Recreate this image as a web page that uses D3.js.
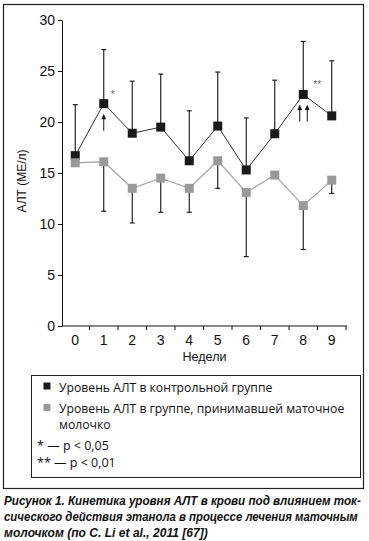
<!DOCTYPE html>
<html>
<head>
<meta charset="utf-8">
<script src="https://cdn.jsdelivr.net/npm/d3@7"></script>
<style>
  body { margin: 0; background: #fff; }
  svg { display: block; }
</style>
</head>
<body>
<svg id="chart" width="369" height="541"></svg>
<script>
// данные
const weeks = [0, 1, 2, 3, 4, 5, 6, 7, 8, 9];
const control = [16.7, 21.8, 18.9, 19.5, 16.2, 19.6, 15.3, 18.85, 22.7, 20.6];
const controlUpper = [21.7, 27.1, 24.0, 24.7, 21.1, 24.9, 20.4, 24.1, 27.9, 26.0];
const jelly = [16.0, 16.1, 13.5, 14.5, 13.5, 16.2, 13.1, 14.8, 11.8, 14.3];
const jellyLower = [null, 11.25, 10.1, 11.15, 11.15, 13.5, 6.8, null, 7.5, 13.0];
const yTicks = [0, 5, 10, 15, 20, 25, 30];
const marks = [{ week: 1, text: "*", arrows: 1 }, { week: 8, text: "**", arrows: 2 }];
const legendItems = [
    { color: "#1a1a1a", lines: ["Уровень АЛТ в контрольной группе"] },
    { color: "#999999", lines: ["Уровень АЛТ в группе, принимавшей маточное", "молочко"] }
];
const notes = ["* — p < 0,05", "** — p < 0,01"];
const caption = [
    "Рисунок 1. Кинетика уровня АЛТ в крови под влиянием ток-",
    "сического действия этанола в процессе лечения маточным",
    "молочком (по C. Li et al., 2011 [67])"
];
const captionWidths = [357, 354, 204];

const svg = d3.select("#chart");
const axisFont = "'Liberation Sans', Arial, sans-serif";
const legendFont = "'Open Sans', 'Noto Sans', sans-serif";

const area = { left: 62, right: 347, top: 20, bottom: 326 };

// рамка рисунка
svg.append("rect")
    .attr("x", 3.5).attr("y", 4.5)
    .attr("width", 360).attr("height", 484)
    .attr("fill", "none").attr("stroke", "#222").attr("stroke-width", 1.2);

const x = d3.scaleBand()
    .domain(weeks)
    .range([area.left - 1, area.right - 1]);

const y = d3.scaleLinear()
    .domain([0, 30])
    .range([area.bottom, area.top]);

const cx = d => x(d) + x.bandwidth() / 2;

// ось Y
const gy = svg.append("g")
    .attr("transform", `translate(${area.left},0)`)
    .call(d3.axisLeft(y).tickValues(yTicks).tickSize(4).tickSizeOuter(0).tickPadding(3));
gy.selectAll("text")
    .style("font-family", axisFont)
    .style("font-size", "14px")
    .attr("fill", "#111");
gy.select(".domain").attr("stroke", "#111");
gy.selectAll(".tick line").attr("stroke", "#111");

// ось X: подписи по центрам, засечки по границам
const gx = svg.append("g")
    .attr("transform", `translate(0,${area.bottom})`)
    .call(d3.axisBottom(x).tickSize(0).tickPadding(9).tickSizeOuter(0));
gx.select(".domain").remove();
gx.selectAll("text")
    .style("font-family", axisFont)
    .style("font-size", "14px")
    .attr("fill", "#111");
gx.append("line")
    .attr("x1", area.left).attr("x2", area.right)
    .attr("stroke", "#111");
const bounds = weeks.map(d => x(d)).concat([x(weeks[weeks.length - 1]) + x.bandwidth()]);
gx.selectAll(".bound")
    .data(bounds.slice(1))
    .join("line")
    .attr("x1", d => d).attr("x2", d => d)
    .attr("y1", 0).attr("y2", 4)
    .attr("stroke", "#111");

svg.append("text")
    .attr("x", (area.left + area.right) / 2)
    .attr("y", 361)
    .attr("text-anchor", "middle")
    .style("font-family", axisFont)
    .style("font-size", "12.5px")
    .attr("fill", "#111")
    .text("Недели");

svg.append("text")
    .attr("transform", `translate(26,181) rotate(-90)`)
    .attr("text-anchor", "middle")
    .style("font-family", axisFont)
    .style("font-size", "12px")
    .attr("fill", "#111")
    .text("АЛТ (МЕ/л)");

// планки погрешностей
const cap = 2.5;
weeks.forEach((w, i) => {
    const px = cx(w);
    svg.append("line")
        .attr("x1", px).attr("x2", px)
        .attr("y1", y(control[i])).attr("y2", y(controlUpper[i]))
        .attr("stroke", "#111").attr("stroke-width", 1.1);
    svg.append("line")
        .attr("x1", px - cap).attr("x2", px + cap)
        .attr("y1", y(controlUpper[i])).attr("y2", y(controlUpper[i]))
        .attr("stroke", "#111").attr("stroke-width", 1.1);
    if (jellyLower[i] !== null) {
        svg.append("line")
            .attr("x1", px).attr("x2", px)
            .attr("y1", y(jelly[i])).attr("y2", y(jellyLower[i]))
            .attr("stroke", "#111").attr("stroke-width", 1.1);
        svg.append("line")
            .attr("x1", px - cap).attr("x2", px + cap)
            .attr("y1", y(jellyLower[i])).attr("y2", y(jellyLower[i]))
            .attr("stroke", "#111").attr("stroke-width", 1.1);
    }
});

// линии
const lineGen = d3.line().x((d, i) => cx(weeks[i])).y(d => y(d));
svg.append("path")
    .datum(control)
    .attr("fill", "none")
    .attr("stroke", "#333")
    .attr("stroke-width", 1)
    .attr("d", lineGen);
svg.append("path")
    .datum(jelly)
    .attr("fill", "none")
    .attr("stroke", "#a8a8a8")
    .attr("stroke-width", 1.3)
    .attr("d", lineGen);

// маркеры
const s = 9;
svg.selectAll(".pc")
    .data(control)
    .join("rect")
    .attr("x", (d, i) => cx(weeks[i]) - s / 2)
    .attr("y", d => y(d) - s / 2)
    .attr("width", s).attr("height", s)
    .attr("fill", "#1a1a1a");
svg.selectAll(".pj")
    .data(jelly)
    .join("rect")
    .attr("x", (d, i) => cx(weeks[i]) - s / 2)
    .attr("y", d => y(d) - s / 2)
    .attr("width", s).attr("height", s)
    .attr("fill", "#999999");

// стрелки и звездочки
marks.forEach(m => {
    const i = weeks.indexOf(m.week);
    const base = cx(m.week);
    const yTop = y(control[i]) + 10;
    const offs = m.arrows === 1 ? [0] : [-3.5, 4];
    offs.forEach(o => {
        const ax = base + o;
        svg.append("line")
            .attr("x1", ax).attr("x2", ax)
            .attr("y1", yTop + 4).attr("y2", yTop + 17)
            .attr("stroke", "#111").attr("stroke-width", 1);
        svg.append("path")
            .attr("d", `M${ax - 2.3},${yTop + 5.5}L${ax},${yTop}L${ax + 2.3},${yTop + 5.5}Z`)
            .attr("fill", "#111");
    });
    svg.append("text")
        .attr("x", base + (m.arrows === 1 ? 9 : 14))
        .attr("y", y(control[i]) - 6)
        .attr("text-anchor", "middle")
        .style("font-family", axisFont)
        .style("font-size", "10px")
        .attr("fill", "#666")
        .text(m.text);
});

// легенда
const lg = svg.append("g");
lg.append("rect")
    .attr("x", 31.5).attr("y", 375.5)
    .attr("width", 329).attr("height", 102)
    .attr("fill", "none").attr("stroke", "#222").attr("stroke-width", 1);
let ly = 391.5;
legendItems.forEach(item => {
    lg.append("rect")
        .attr("x", 43.5).attr("y", ly - 9)
        .attr("width", 7).attr("height", 7)
        .attr("fill", item.color);
    item.lines.forEach((t, k) => {
        lg.append("text")
            .attr("x", 59)
            .attr("y", ly + k * 15.5)
            .style("font-family", legendFont)
            .style("font-size", "12.2px")
            .attr("fill", "#111")
            .text(t);
    });
    ly += item.lines.length * 15.5 + 6;
});
notes.forEach((t, k) => {
    lg.append("text")
        .attr("x", 37)
        .attr("y", 450 + k * 16.5)
        .style("font-family", legendFont)
        .style("font-size", "12.5px")
        .attr("fill", "#111")
        .text(t);
});

// подпись: узкий жирный курсив, сжимаем по горизонтали
caption.forEach((t, k) => {
    const g = svg.append("g");
    const txt = g.append("text")
        .attr("x", 0)
        .attr("y", 0)
        .style("font-family", axisFont)
        .style("font-size", "12.6px")
        .style("font-weight", "bold")
        .style("font-style", "italic")
        .attr("fill", "#111")
        .text(t);
    const w = txt.node().getComputedTextLength();
    const sx = Math.min(1, captionWidths[k] / w);
    g.attr("transform", `translate(4,${505 + k * 16.2}) scale(${sx},1)`);
});
</script>
</body>
</html>
